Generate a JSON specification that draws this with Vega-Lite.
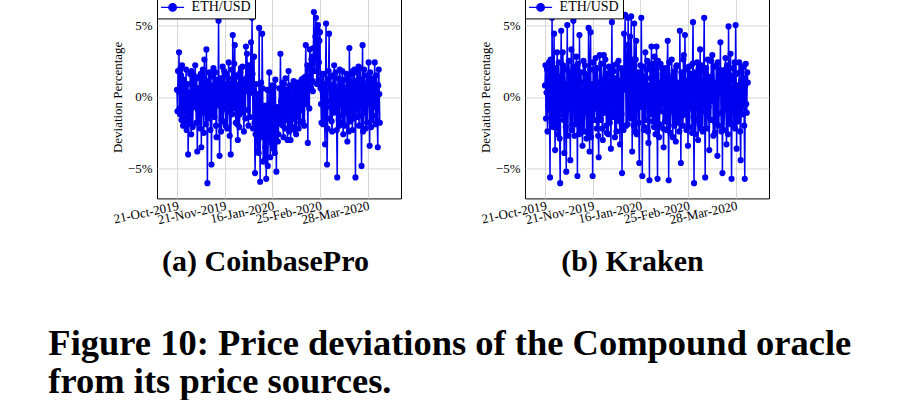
{
"$schema": "https://vega.github.io/schema/vega-lite/v6.json",
"padding": {"left": 48, "top": -5.6, "right": 0, "bottom": 0},
"background": "white",
"config": {
  "view": {"stroke": "black", "strokeWidth": 1},
  "axis": {"labelFont": "Liberation Serif", "labelFontSize": 13, "labelColor": "black", "titleFont": "Liberation Serif", "titleFontSize": 13, "titleFontWeight": "normal", "titleColor": "black", "domain": false, "ticks": false, "gridColor": "#cccccc", "gridWidth": 0.8, "labelPadding": 5, "titlePadding": 3},
  "legend": {"orient": "top-left", "offset": 0, "padding": 4, "strokeColor": "black", "fillColor": "white", "cornerRadius": 0, "labelFont": "Liberation Serif", "labelFontSize": 14, "labelColor": "black", "symbolType": "M-1.64,0H1.64M-0.54,0A0.54,0.54,0,1,0,0.54,0A0.54,0.54,0,1,0,-0.54,0Z", "symbolSize": 196, "symbolOffset": 3.6, "labelOffset": 11, "symbolStrokeWidth": 1.3}
},
"data": {"values": [
{"i":0,"a":0.5,"b":0.8},{"i":1,"a":-1.0,"b":2.2},{"i":2,"a":1.8,"b":-1.5},{"i":3,"a":0.4,"b":0.3},{"i":4,"a":3.1,"b":1.9},{"i":5,"a":-0.8,"b":-2.4},{"i":6,"a":-1.2,"b":-0.6},{"i":7,"a":2.0,"b":1.3},{"i":8,"a":1.5,"b":2.4},{"i":9,"a":-1.6,"b":-0.9},
{"i":10,"a":2.2,"b":-5.6},{"i":11,"a":0.3,"b":2.6},{"i":12,"a":-2.0,"b":1.1},{"i":13,"a":1.2,"b":-1.8},{"i":14,"a":0.8,"b":5.5},{"i":15,"a":-1.7,"b":0.2},{"i":16,"a":-0.9,"b":-2.1},{"i":17,"a":0.6,"b":1.6},{"i":18,"a":1.9,"b":4.4},{"i":19,"a":-2.3,"b":-1.3},
{"i":20,"a":-1.5,"b":-3.7},{"i":21,"a":0.9,"b":2.0},{"i":22,"a":-4.0,"b":0.5},{"i":23,"a":-1.1,"b":-2.2},{"i":24,"a":0.3,"b":3.1},{"i":25,"a":-1.9,"b":0.7},{"i":26,"a":1.6,"b":-2.6},{"i":27,"a":0.2,"b":2.4},{"i":28,"a":-2.6,"b":1.4},{"i":29,"a":1.8,"b":-2.9},
{"i":30,"a":0.9,"b":-6.0},{"i":31,"a":-2.1,"b":1.1},{"i":32,"a":-0.4,"b":4.6},{"i":33,"a":1.5,"b":-0.4},{"i":34,"a":1.2,"b":-1.2},{"i":35,"a":-0.7,"b":3.1},{"i":36,"a":2.2,"b":2.2},{"i":37,"a":0.1,"b":-1.6},{"i":38,"a":-1.8,"b":-3.9},{"i":39,"a":1.3,"b":1.9},
{"i":40,"a":-3.8,"b":0.9},{"i":41,"a":-0.9,"b":-2.1},{"i":42,"a":0.6,"b":-5.2},{"i":43,"a":-1.8,"b":0.6},{"i":44,"a":1.4,"b":5.0},{"i":45,"a":0.5,"b":-2.7},{"i":46,"a":-2.2,"b":-0.8},{"i":47,"a":1.6,"b":2.5},{"i":48,"a":-3.5,"b":1.7},{"i":49,"a":-0.4,"b":-0.6},
{"i":50,"a":1.0,"b":-4.4},{"i":51,"a":1.9,"b":1.5},{"i":52,"a":-1.1,"b":3.3},{"i":53,"a":-2.5,"b":-2.3},{"i":54,"a":2.6,"b":-1.9},{"i":55,"a":0.7,"b":0.8},{"i":56,"a":-0.6,"b":5.3},{"i":57,"a":-1.9,"b":-0.9},{"i":58,"a":3.3,"b":-2.7},{"i":59,"a":-0.5,"b":2.1},
{"i":60,"a":-6.0,"b":0.6},{"i":61,"a":1.1,"b":-1.9},{"i":62,"a":0.4,"b":2.8},{"i":63,"a":-1.5,"b":-0.3},{"i":64,"a":1.7,"b":-5.5},{"i":65,"a":0.2,"b":2.3},{"i":66,"a":-2.3,"b":1.2},{"i":67,"a":1.4,"b":-2.6},{"i":68,"a":-4.7,"b":4.3},{"i":69,"a":-0.2,"b":0.5},
{"i":70,"a":0.8,"b":-2.3},{"i":71,"a":-1.3,"b":1.7},{"i":72,"a":2.0,"b":0.4},{"i":73,"a":0.6,"b":-2.0},{"i":74,"a":-1.4,"b":-3.4},{"i":75,"a":1.7,"b":1.0},{"i":76,"a":1.1,"b":2.5},{"i":77,"a":-2.0,"b":-2.4},{"i":78,"a":-2.8,"b":-1.0},{"i":79,"a":1.2,"b":2.2},
{"i":80,"a":0.5,"b":1.6},{"i":81,"a":-0.3,"b":-1.1},{"i":82,"a":5.3,"b":-2.9},{"i":83,"a":-0.6,"b":1.4},{"i":84,"a":-4.1,"b":0.2},{"i":85,"a":0.8,"b":-2.5},{"i":86,"a":1.3,"b":4.8},{"i":87,"a":-2.4,"b":0.7},{"i":88,"a":-1.6,"b":-3.8},{"i":89,"a":1.0,"b":1.9},
{"i":90,"a":2.1,"b":4.5},{"i":91,"a":-1.7,"b":-2.8},{"i":92,"a":-0.8,"b":-1.4},{"i":93,"a":1.8,"b":0.9},{"i":94,"a":0.9,"b":-5.5},{"i":95,"a":-0.5,"b":2.4},{"i":96,"a":-2.0,"b":1.9},{"i":97,"a":0.4,"b":-1.6},{"i":98,"a":1.6,"b":-0.5},{"i":99,"a":-2.2,"b":1.8},
{"i":100,"a":-1.0,"b":2.7},{"i":101,"a":1.3,"b":-0.8},{"i":102,"a":2.4,"b":-2.2},{"i":103,"a":-0.4,"b":2.0},{"i":104,"a":-2.7,"b":1.0},{"i":105,"a":0.9,"b":-2.7},{"i":106,"a":-4.0,"b":-4.2},{"i":107,"a":0.1,"b":0.4},{"i":108,"a":1.9,"b":2.9},{"i":109,"a":-1.2,"b":-1.5},
{"i":110,"a":4.3,"b":-1.6},{"i":111,"a":1.1,"b":2.3},{"i":112,"a":-0.6,"b":0.7},{"i":113,"a":2.3,"b":-2.2},{"i":114,"a":3.6,"b":-3.0},{"i":115,"a":-0.8,"b":1.2},{"i":116,"a":-1.8,"b":2.9},{"i":117,"a":1.5,"b":-1.1},{"i":118,"a":0.7,"b":-0.9},{"i":119,"a":-1.9,"b":2.6},
{"i":120,"a":-3.0,"b":1.5},{"i":121,"a":0.8,"b":-2.0},{"i":122,"a":1.4,"b":-2.5},{"i":123,"a":-2.1,"b":1.6},{"i":124,"a":-1.2,"b":0.3},{"i":125,"a":1.7,"b":-2.6},{"i":126,"a":2.0,"b":2.1},{"i":127,"a":-0.9,"b":-0.2},{"i":128,"a":-0.5,"b":-1.8},{"i":129,"a":2.1,"b":1.9},
{"i":130,"a":1.1,"b":-3.6},{"i":131,"a":-1.0,"b":0.8},{"i":132,"a":-2.4,"b":5.2},{"i":133,"a":1.2,"b":-1.4},{"i":134,"a":0.6,"b":-1.1},{"i":135,"a":-1.5,"b":2.2},{"i":136,"a":3.5,"b":1.8},{"i":137,"a":0.4,"b":-0.6},{"i":138,"a":3.0,"b":-2.8},{"i":139,"a":1.4,"b":1.3},
{"i":140,"a":-0.9,"b":0.6},{"i":141,"a":-2.0,"b":-2.4},{"i":142,"a":2.2,"b":2.3},{"i":143,"a":0.6,"b":0.2},{"i":144,"a":-1.4,"b":-1.5},{"i":145,"a":1.9,"b":2.5},{"i":146,"a":3.8,"b":1.1},{"i":147,"a":0.3,"b":-1.7},{"i":148,"a":5.5,"b":-3.3},{"i":149,"a":1.6,"b":0.9},
{"i":150,"a":-2.2,"b":2.0},{"i":151,"a":0.5,"b":-1.2},{"i":152,"a":2.8,"b":-5.3},{"i":153,"a":-1.8,"b":1.8},{"i":154,"a":-5.3,"b":0.8},{"i":155,"a":-2.6,"b":-2.3},{"i":156,"a":0.9,"b":4.4},{"i":157,"a":-1.2,"b":0.5},{"i":158,"a":-3.8,"b":5.7},{"i":159,"a":0.2,"b":2.0},
{"i":160,"a":-1.0,"b":-2.0},{"i":161,"a":-3.9,"b":1.1},{"i":162,"a":4.8,"b":3.6},{"i":163,"a":-1.6,"b":-1.9},{"i":164,"a":-5.9,"b":5.5},{"i":165,"a":-0.5,"b":2.8},{"i":166,"a":1.0,"b":-1.3},{"i":167,"a":-2.8,"b":0.3},{"i":168,"a":4.4,"b":4.2},{"i":169,"a":0.6,"b":-1.5},
{"i":170,"a":-4.5,"b":5.6},{"i":171,"a":-1.9,"b":2.2},{"i":172,"a":-0.8,"b":-3.8},{"i":173,"a":-4.4,"b":-0.4},{"i":174,"a":-3.5,"b":2.6},{"i":175,"a":-0.6,"b":-2.0},{"i":176,"a":-5.7,"b":5.1},{"i":177,"a":-2.3,"b":1.2},{"i":178,"a":0.5,"b":-2.4},{"i":179,"a":-4.8,"b":2.6},
{"i":180,"a":-2.9,"b":3.9},{"i":181,"a":-0.9,"b":-2.6},{"i":182,"a":1.7,"b":-0.7},{"i":183,"a":-2.5,"b":0.9},{"i":184,"a":-4.2,"b":1.7},{"i":185,"a":0.4,"b":-1.8},{"i":186,"a":-1.3,"b":-4.6},{"i":187,"a":-3.2,"b":1.5},{"i":188,"a":0.8,"b":2.2},{"i":189,"a":-1.1,"b":-0.7},
{"i":190,"a":-3.6,"b":5.5},{"i":191,"a":0.7,"b":0.6},{"i":192,"a":-2.0,"b":-5.5},{"i":193,"a":-3.9,"b":2.1},{"i":194,"a":1.2,"b":1.4},{"i":195,"a":-2.4,"b":-2.3},{"i":196,"a":-5.2,"b":-2.1},{"i":197,"a":-1.0,"b":1.0},{"i":198,"a":-0.7,"b":3.1},{"i":199,"a":-3.1,"b":-1.6},
{"i":200,"a":-2.6,"b":-0.4},{"i":201,"a":-0.8,"b":1.9},{"i":202,"a":0.6,"b":2.5},{"i":203,"a":-1.7,"b":-2.4},{"i":204,"a":3.0,"b":-3.2},{"i":205,"a":-0.3,"b":0.8},{"i":206,"a":-1.9,"b":-5.8},{"i":207,"a":0.4,"b":2.2},{"i":208,"a":1.0,"b":1.3},{"i":209,"a":-2.0,"b":-1.2},
{"i":210,"a":-2.8,"b":3.5},{"i":211,"a":0.9,"b":0.4},{"i":212,"a":-0.4,"b":-1.7},{"i":213,"a":-2.2,"b":2.3},{"i":214,"a":1.3,"b":0.5},{"i":215,"a":-0.6,"b":-2.1},{"i":216,"a":-1.6,"b":2.8},{"i":217,"a":0.5,"b":0.5},{"i":218,"a":-3.0,"b":-2.6},{"i":219,"a":-1.3,"b":1.2},
{"i":220,"a":1.8,"b":3.5},{"i":221,"a":-2.4,"b":-1.5},{"i":222,"a":-0.9,"b":-5.7},{"i":223,"a":0.8,"b":2.5},{"i":224,"a":-3.0,"b":1.0},{"i":225,"a":-1.6,"b":-2.8},{"i":226,"a":0.7,"b":-1.9},{"i":227,"a":-2.1,"b":0.6},{"i":228,"a":-1.5,"b":2.3},{"i":229,"a":0.2,"b":-1.0},
{"i":230,"a":1.1,"b":-0.3},{"i":231,"a":-1.0,"b":2.0},{"i":232,"a":-2.3,"b":1.6},{"i":233,"a":1.0,"b":-2.2},{"i":234,"a":0.3,"b":-3.5},{"i":235,"a":-2.6,"b":1.4},{"i":236,"a":-1.2,"b":0.9},{"i":237,"a":0.6,"b":-1.7},{"i":238,"a":1.0,"b":2.0},{"i":239,"a":-1.4,"b":0.3},
{"i":240,"a":-2.2,"b":-2.3},{"i":241,"a":0.9,"b":1.8},{"i":242,"a":0.5,"b":3.9},{"i":243,"a":-1.8,"b":-1.1},{"i":244,"a":-0.8,"b":-5.8},{"i":245,"a":0.1,"b":2.4},{"i":246,"a":1.2,"b":1.2},{"i":247,"a":-0.9,"b":-2.5},{"i":248,"a":-1.7,"b":-1.0},{"i":249,"a":1.3,"b":0.9},
{"i":250,"a":0.9,"b":2.6},{"i":251,"a":-2.0,"b":-0.6},{"i":252,"a":-0.3,"b":-2.8},{"i":253,"a":1.4,"b":1.5},{"i":254,"a":3.6,"b":0.4},{"i":255,"a":-0.5,"b":-2.0},{"i":256,"a":0.2,"b":1.8},{"i":257,"a":2.2,"b":-0.3},{"i":258,"a":-3.2,"b":-3.1},{"i":259,"a":0.8,"b":2.1},
{"i":260,"a":1.5,"b":2.2},{"i":261,"a":-0.8,"b":-1.8},{"i":262,"a":3.3,"b":-1.4},{"i":263,"a":1.9,"b":1.0},{"i":264,"a":0.6,"b":0.7},{"i":265,"a":2.6,"b":-2.4},{"i":266,"a":2.8,"b":4.6},{"i":267,"a":1.1,"b":0.2},{"i":268,"a":0.4,"b":-4.6},{"i":269,"a":3.4,"b":1.7},
{"i":270,"a":5.9,"b":1.5},{"i":271,"a":2.7,"b":-1.3},{"i":272,"a":1.8,"b":-2.0},{"i":273,"a":4.2,"b":2.6},{"i":274,"a":5.5,"b":2.9},{"i":275,"a":3.0,"b":-0.9},{"i":276,"a":0.9,"b":4.3},{"i":277,"a":4.7,"b":1.1},{"i":278,"a":5.0,"b":-1.2},{"i":279,"a":1.2,"b":-2.3},
{"i":280,"a":2.4,"b":0.6},{"i":281,"a":3.9,"b":1.9},{"i":282,"a":4.5,"b":-3.4},{"i":283,"a":0.6,"b":-0.5},{"i":284,"a":-0.5,"b":2.1},{"i":285,"a":-1.8,"b":-2.1},{"i":286,"a":1.6,"b":-0.8},{"i":287,"a":0.4,"b":1.6},{"i":288,"a":-1.9,"b":1.3},{"i":289,"a":1.6,"b":0.4},
{"i":290,"a":0.7,"b":-2.5},{"i":291,"a":-1.2,"b":2.3},{"i":292,"a":-3.3,"b":5.2},{"i":293,"a":0.9,"b":-1.4},{"i":294,"a":5.1,"b":-6.0},{"i":295,"a":-0.7,"b":0.7},{"i":296,"a":-4.7,"b":1.7},{"i":297,"a":-2.2,"b":-2.6},{"i":298,"a":1.2,"b":-1.6},{"i":299,"a":1.8,"b":1.3},
{"i":300,"a":4.4,"b":2.4},{"i":301,"a":-0.3,"b":-0.4},{"i":302,"a":-1.5,"b":-3.0},{"i":303,"a":1.4,"b":2.0},{"i":304,"a":0.8,"b":0.8},{"i":305,"a":-1.7,"b":-1.9},{"i":306,"a":-2.4,"b":3.3},{"i":307,"a":0.5,"b":0.9},{"i":308,"a":1.5,"b":-2.2},{"i":309,"a":-1.1,"b":2.2},
{"i":310,"a":2.2,"b":1.1},{"i":311,"a":0.7,"b":-2.4},{"i":312,"a":-1.0,"b":-0.5},{"i":313,"a":1.7,"b":1.8},{"i":314,"a":0.4,"b":5.5},{"i":315,"a":-2.3,"b":-1.0},{"i":316,"a":-5.6,"b":-5.6},{"i":317,"a":0.2,"b":0.5},{"i":318,"a":1.3,"b":2.0},{"i":319,"a":-1.6,"b":-2.2},
{"i":320,"a":-2.0,"b":-1.3},{"i":321,"a":1.9,"b":2.6},{"i":322,"a":0.9,"b":1.4},{"i":323,"a":-0.4,"b":-0.7},{"i":324,"a":-1.3,"b":-3.7},{"i":325,"a":0.8,"b":1.4},{"i":326,"a":1.8,"b":0.3},{"i":327,"a":-1.8,"b":-1.6},{"i":328,"a":-2.6,"b":2.5},{"i":329,"a":1.2,"b":-0.3},
{"i":330,"a":0.6,"b":2.9},{"i":331,"a":-2.0,"b":0.8},{"i":332,"a":-0.9,"b":-2.7},{"i":333,"a":0.5,"b":2.1},{"i":334,"a":1.6,"b":1.0},{"i":335,"a":-1.1,"b":-2.5},{"i":336,"a":-3.1,"b":-1.8},{"i":337,"a":1.4,"b":0.6},{"i":338,"a":0.2,"b":2.2},{"i":339,"a":-2.4,"b":-1.2},
{"i":340,"a":3.4,"b":-4.1},{"i":341,"a":0.3,"b":2.4},{"i":342,"a":-1.7,"b":0.6},{"i":343,"a":1.6,"b":-2.0},{"i":344,"a":1.0,"b":1.9},{"i":345,"a":-1.0,"b":0.3},{"i":346,"a":-2.3,"b":3.8},{"i":347,"a":1.8,"b":-1.1},{"i":348,"a":0.7,"b":-2.4},{"i":349,"a":-1.5,"b":1.7},
{"i":350,"a":1.9,"b":-5.3},{"i":351,"a":-0.7,"b":1.0},{"i":352,"a":-5.6,"b":1.5},{"i":353,"a":1.1,"b":-2.3},{"i":354,"a":0.5,"b":-0.9},{"i":355,"a":1.7,"b":1.9},{"i":356,"a":-1.4,"b":2.7},{"i":357,"a":-0.8,"b":-0.8},{"i":358,"a":2.1,"b":-3.3},{"i":359,"a":-2.0,"b":2.2},
{"i":360,"a":-0.6,"b":0.4},{"i":361,"a":2.0,"b":-2.6},{"i":362,"a":1.2,"b":4.9},{"i":363,"a":-1.3,"b":0.7},{"i":364,"a":-4.8,"b":-1.7},{"i":365,"a":0.6,"b":1.5},{"i":366,"a":3.6,"b":3.0},{"i":367,"a":-2.4,"b":-1.9},{"i":368,"a":-1.1,"b":-5.7},{"i":369,"a":1.9,"b":0.4},
{"i":370,"a":0.8,"b":1.2},{"i":371,"a":-0.9,"b":2.0},{"i":372,"a":-2.2,"b":-2.0},{"i":373,"a":0.4,"b":-0.9},{"i":374,"a":1.5,"b":2.4},{"i":375,"a":-1.8,"b":-2.2},{"i":376,"a":-0.4,"b":5.0},{"i":377,"a":1.1,"b":1.6},{"i":378,"a":2.4,"b":-3.6},{"i":379,"a":-0.5,"b":0.2},
{"i":380,"a":-3.4,"b":0.8},{"i":381,"a":1.7,"b":-1.7},{"i":382,"a":0.9,"b":-1.4},{"i":383,"a":-2.1,"b":2.4},{"i":384,"a":-1.6,"b":1.7},{"i":385,"a":0.6,"b":-2.4},{"i":386,"a":1.3,"b":-4.4},{"i":387,"a":-1.3,"b":1.1},{"i":388,"a":-0.7,"b":2.1},{"i":389,"a":0.9,"b":-1.2},
{"i":390,"a":2.4,"b":-0.6},{"i":391,"a":-0.2,"b":2.1},{"i":392,"a":-1.9,"b":1.3},{"i":393,"a":1.5,"b":-2.0},{"i":394,"a":0.6,"b":-5.7},{"i":395,"a":-1.7,"b":0.8},{"i":396,"a":-3.5,"b":2.3},{"i":397,"a":0.8,"b":-0.5},{"i":398,"a":1.9,"b":-1.1},{"i":399,"a":0.2,"b":1.7},
{"i":400,"a":-1.8,"b":1.0}
]},
"title": {"text": ["Figure 10: Price deviations of the Compound oracle", "from its price sources."], "orient": "bottom", "anchor": "start", "font": "Liberation Serif", "fontSize": 36.5, "fontWeight": "bold", "lineHeight": 38.7, "offset": 48.6, "dx": -62.5, "color": "black"},
"resolve": {"legend": {"color": "independent"}, "scale": {"color": "independent"}},
"spacing": 76,
"hconcat": [
 {
  "width": 244, "height": 203,
  "title": {"text": "(a) CoinbasePro", "orient": "bottom", "font": "Liberation Serif", "fontSize": 30, "fontWeight": "bold", "offset": 20, "dx": -13.5, "color": "black"},
  "encoding": {
    "x": {"field": "i", "type": "quantitative", "scale": {"domain": [-39.4, 441.8], "nice": false, "zero": false}, "axis": {"values": [0, 94, 188, 282, 376], "labelExpr": "['21-Oct-2019','21-Nov-2019','16-Jan-2020','25-Feb-2020','28-Mar-2020'][indexof([0,94,188,282,376], datum.value)]", "title": null, "labelAngle": -12, "labelAlign": "right", "labelBaseline": "top", "labelFontSize": 13, "labelPadding": 1, "labelOverlap": false}},
    "y": {"field": "a", "type": "quantitative", "scale": {"domain": [-7.06, 7.06], "nice": false, "zero": false}, "axis": {"values": [-5, 0, 5], "labelExpr": "datum.value < 0 ? '−' + abs(datum.value) + '%' : datum.value + '%'", "title": "Deviation Percentage"}},
    "color": {"datum": "ETH/USD", "scale": {"range": ["#0000f0"]}, "legend": {"title": null, "encode": {"symbols": {"update": {"fill": {"value": "#0000f0"}, "stroke": {"value": "#0000f0"}}}}}}
  },
  "layer": [
    {"mark": {"type": "line", "strokeWidth": 1.5}},
    {"mark": {"type": "point", "filled": true, "size": 38, "opacity": 1}}
  ]
 },
 {
  "width": 244, "height": 203,
  "title": {"text": "(b) Kraken", "orient": "bottom", "font": "Liberation Serif", "fontSize": 30, "fontWeight": "bold", "offset": 20, "dx": -14.5, "color": "black"},
  "encoding": {
    "x": {"field": "i", "type": "quantitative", "scale": {"domain": [-39.4, 441.8], "nice": false, "zero": false}, "axis": {"values": [0, 94, 188, 282, 376], "labelExpr": "['21-Oct-2019','21-Nov-2019','16-Jan-2020','25-Feb-2020','28-Mar-2020'][indexof([0,94,188,282,376], datum.value)]", "title": null, "labelAngle": -12, "labelAlign": "right", "labelBaseline": "top", "labelFontSize": 13, "labelPadding": 1, "labelOverlap": false}},
    "y": {"field": "b", "type": "quantitative", "scale": {"domain": [-7.06, 7.06], "nice": false, "zero": false}, "axis": {"values": [-5, 0, 5], "labelExpr": "datum.value < 0 ? '−' + abs(datum.value) + '%' : datum.value + '%'", "title": "Deviation Percentage"}},
    "color": {"datum": "ETH/USD", "scale": {"range": ["#0000f0"]}, "legend": {"title": null, "encode": {"symbols": {"update": {"fill": {"value": "#0000f0"}, "stroke": {"value": "#0000f0"}}}}}}
  },
  "layer": [
    {"mark": {"type": "line", "strokeWidth": 1.5}},
    {"mark": {"type": "point", "filled": true, "size": 38, "opacity": 1}}
  ]
 }
]
}
